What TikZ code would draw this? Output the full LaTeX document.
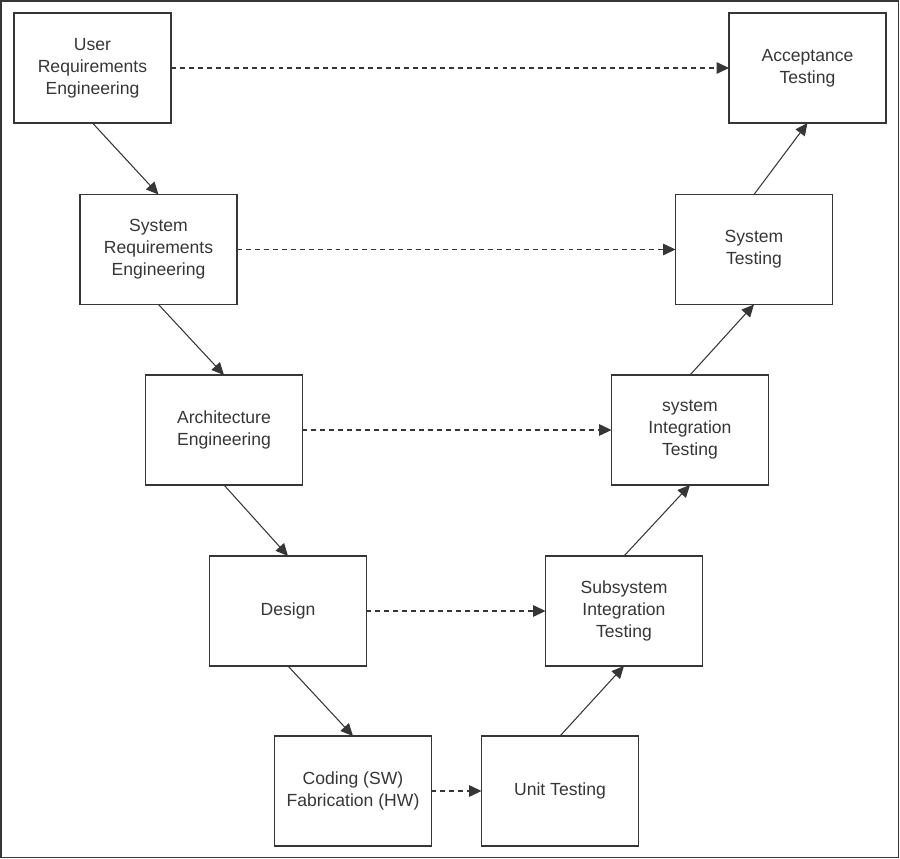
\documentclass[tikz,border=0pt]{standalone}
\usepackage{fontspec}
\setmainfont{Liberation Sans}
\usetikzlibrary{arrows.meta}
\definecolor{vgray}{HTML}{363636}
\tikzset{>={Triangle[length=7pt,width=6.5pt]}}
\tikzset{phase/.style={draw=vgray, line width=0.75pt, minimum width=3.14cm, minimum height=2.2cm,
  inner sep=0pt, outer sep=0pt, align=center, text=vgray, font=\fontsize{10}{12.6}\selectfont}}

\begin{document}
\begin{tikzpicture}[x=0.02cm, y=-0.02cm]
\useasboundingbox (0,0) rectangle (900,859);
\draw[vgray, line width=1.1pt] (1,1) rectangle (898.5,857.5);
% left branch
\node[phase] (ureq) at (92.5,68) {User\\Requirements\\Engineering};
\node[phase] (sreq) at (158.5,249.5) {System\\Requirements\\Engineering};
\node[phase] (arch) at (224,430) {Architecture\\Engineering};
\node[phase] (des) at (288,611) {Design};
\node[phase] (code) at (353,791) {Coding (SW)\\Fabrication (HW)};
% right branch
\node[phase] (unit) at (560,791) {Unit Testing};
\node[phase] (subint) at (624,611) {Subsystem\\Integration\\Testing};
\node[phase] (sysint) at (690,430) {system\\Integration\\Testing};
\node[phase] (systest) at (754,249.5) {System\\Testing};
\node[phase] (acc) at (807.5,68) {Acceptance\\Testing};

\path[->, color=vgray, line width=0.6pt]
(ureq.south) edge (sreq.north)
(sreq.south) edge (arch.north)
(arch.south) edge (des.north)
(des.south) edge (code.north)
(unit.north) edge (subint.south)
(subint.north) edge (sysint.south)
(sysint.north) edge (systest.south)
(systest.north) edge (acc.south)
;
\path[->, color=vgray, line width=0.6pt, dash pattern=on 2.8pt off 2.3pt]
(ureq.east) edge (acc.west)
(sreq.east) edge (systest.west)
(arch.east) edge (sysint.west)
(des.east) edge (subint.west)
(code.east) edge (unit.west)
;
\end{tikzpicture}
\end{document}
